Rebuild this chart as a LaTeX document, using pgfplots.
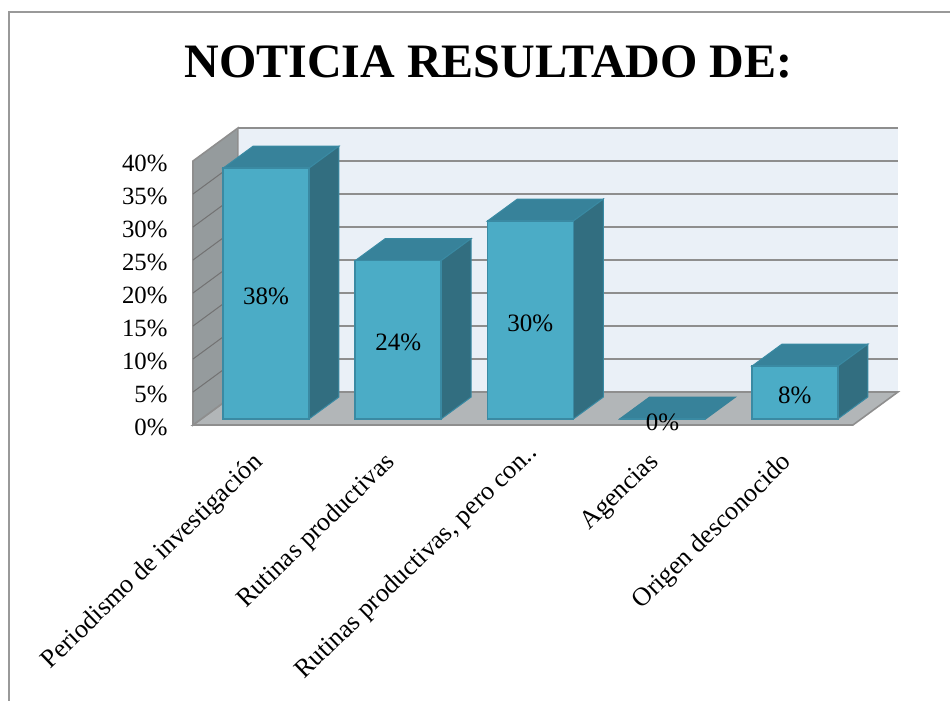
\documentclass[border=0pt]{standalone}
\usepackage{fontspec}
\setmainfont{Liberation Serif}
\usepackage{pgfplots}
\usepackage{pgfplotstable}
\pgfplotsset{compat=1.18}

\definecolor{barfront}{HTML}{4BACC6}
\definecolor{bartop}{HTML}{37829A}
\definecolor{barside}{HTML}{326E80}
\definecolor{baredge}{HTML}{3A8AA3}
\definecolor{backwall}{HTML}{EAF0F7}
\definecolor{sidewall}{HTML}{959B9D}
\definecolor{floorc}{HTML}{B2B6B8}
\definecolor{gridc}{HTML}{8E8E8E}

\pgfplotstableread{
x v
0 38
1 24
2 30
3 0
4 8
}\bars

\begin{document}
\begin{tikzpicture}
    \path[use as bounding box] (0pt,0pt) rectangle (950pt,-701pt);
    \draw[gridc!90, line width=1.5pt] (9pt,-701pt) -- (9pt,-12pt) -- (950pt,-12pt);
    \begin{axis}[
        at={(193pt,-425pt)},
        anchor=south west,
        x=132.2pt,
        y=6.6pt,
        xmin=-0.552,
        xmax=4.44,
        ymin=0,
        ymax=40,
        clip=false,
        axis line style={draw=none},
        major tick length=0pt,
        ytick distance=5,
        yticklabel={\pgfmathprintnumber{\tick}\%},
        /pgf/number format/assume math mode=true,
        yticklabel style={font=\fontsize{24.8}{24.8}\selectfont, anchor=east, xshift=-22pt, yshift=-2.5pt},
        xtick={0,1,2,3,4},
        xticklabels={Periodismo de investigación, Rutinas productivas,
            {Rutinas productivas, pero con..\kern-14pt}, Agencias, Origen desconocido},
        % shifts act in the rotated frame of the label
        xticklabel style={font=\fontsize{26.1}{26.1}\selectfont, rotate=44, anchor=north east,
            inner sep=0pt, yshift=-7.9pt, xshift=-28.5pt},
        title={NOTICIA RESULTADO DE:},
        title style={font=\fontsize{48}{48}\selectfont\bfseries, at={(0.4478,1.352)}, anchor=center},
        wall/.style={line width=1.6pt, draw=gridc, forget plot},
        grid line/.style={line width=1.6pt, draw=gridc, forget plot},
        face/.style={line width=1pt, draw=baredge, forget plot, yshift=6pt},
    ]
        % walls and floor
        \addplot[wall, fill=backwall, line width=0pt, draw=none] coordinates {(-0.212,5) (4.78,5) (4.78,45) (-0.212,45)} -- cycle;
        \addplot[grid line] coordinates {(-0.212,45) (4.78,45)};
        \addplot[grid line] coordinates {(-0.212,40) (4.78,40)};
        \addplot[grid line] coordinates {(-0.212,35) (4.78,35)};
        \addplot[grid line] coordinates {(-0.212,30) (4.78,30)};
        \addplot[grid line] coordinates {(-0.212,25) (4.78,25)};
        \addplot[grid line] coordinates {(-0.212,20) (4.78,20)};
        \addplot[grid line] coordinates {(-0.212,15) (4.78,15)};
        \addplot[grid line] coordinates {(-0.212,10) (4.78,10)};
        \addplot[wall, fill=floorc] coordinates {(-0.552,0) (4.44,0) (4.78,5) (-0.212,5)} -- cycle;
        \addplot[wall, fill=sidewall] coordinates {(-0.552,0) (-0.552,40) (-0.212,45) (-0.212,5)} -- cycle;
        \addplot[grid line, draw=gridc!80!black, line width=1pt] coordinates {(-0.552,5) (-0.212,10)};
        \addplot[grid line, draw=gridc!80!black, line width=1pt] coordinates {(-0.552,10) (-0.212,15)};
        \addplot[grid line, draw=gridc!80!black, line width=1pt] coordinates {(-0.552,15) (-0.212,20)};
        \addplot[grid line, draw=gridc!80!black, line width=1pt] coordinates {(-0.552,20) (-0.212,25)};
        \addplot[grid line, draw=gridc!80!black, line width=1pt] coordinates {(-0.552,25) (-0.212,30)};
        \addplot[grid line, draw=gridc!80!black, line width=1pt] coordinates {(-0.552,30) (-0.212,35)};
        \addplot[grid line, draw=gridc!80!black, line width=1pt] coordinates {(-0.552,35) (-0.212,40)};
        % bar tops and sides
        \addplot[face, fill=bartop] coordinates {(-0.325,38) (0.325,38) (0.552,41.33) (-0.098,41.33)} -- cycle;
        \addplot[face, fill=barside] coordinates {(0.325,0) (0.552,3.33) (0.552,41.33) (0.325,38)} -- cycle;
        \addplot[face, fill=bartop] coordinates {(0.675,24) (1.325,24) (1.552,27.33) (0.902,27.33)} -- cycle;
        \addplot[face, fill=barside] coordinates {(1.325,0) (1.552,3.33) (1.552,27.33) (1.325,24)} -- cycle;
        \addplot[face, fill=bartop] coordinates {(1.675,30) (2.325,30) (2.552,33.33) (1.902,33.33)} -- cycle;
        \addplot[face, fill=barside] coordinates {(2.325,0) (2.552,3.33) (2.552,33.33) (2.325,30)} -- cycle;
        \addplot[face, fill=bartop, draw=bartop] coordinates {(2.675,0) (3.325,0) (3.552,3.33) (2.902,3.33)} -- cycle;
        \addplot[face, fill=bartop] coordinates {(3.675,8) (4.325,8) (4.552,11.33) (3.902,11.33)} -- cycle;
        \addplot[face, fill=barside] coordinates {(4.325,0) (4.552,3.33) (4.552,11.33) (4.325,8)} -- cycle;
        % bar fronts
        \addplot[ybar, bar width=86pt, bar shift=0pt, yshift=6pt, fill=barfront, draw=baredge, line width=1.5pt, forget plot] table[x=x, y=v] {\bars};
        % value labels, centred on each bar
        \addplot[draw=none, mark=none, yshift=3pt, forget plot, point meta=explicit symbolic,
            nodes near coords, nodes near coords align=center,
            every node near coord/.style={font=\fontsize{25}{25}\selectfont, black, inner sep=0pt}]
            coordinates {(0,19) [38\%] (1,12) [24\%] (2,15) [30\%] (3,0) [0\%] (4,4) [8\%]};
    \end{axis}
\end{tikzpicture}
\end{document}
